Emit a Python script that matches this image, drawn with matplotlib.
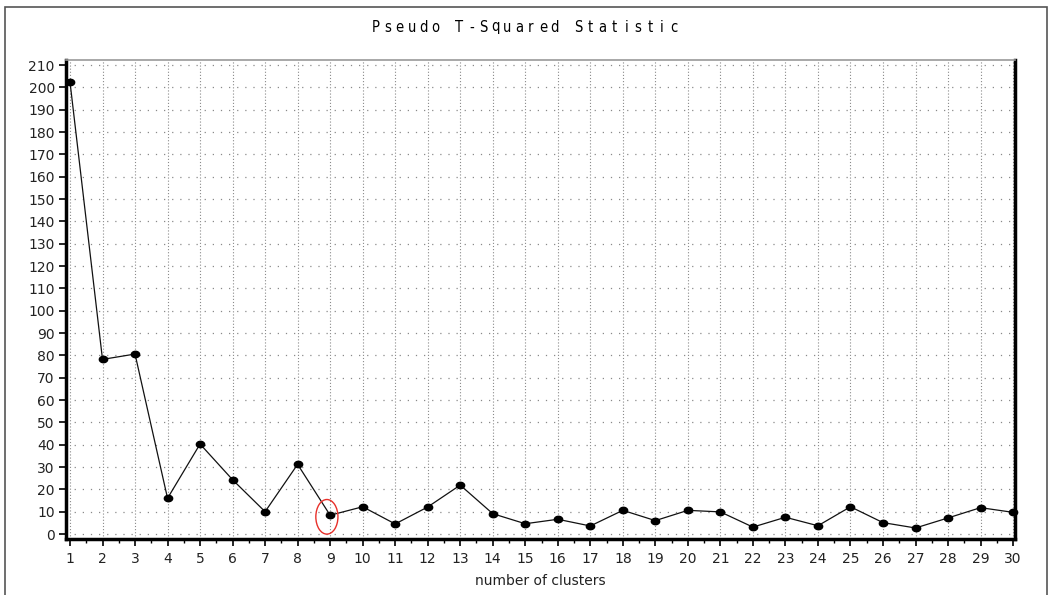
import matplotlib
matplotlib.use("Agg")
import matplotlib.pyplot as plt
import matplotlib.patches as mpatches
import matplotlib.ticker as ticker
from matplotlib.path import Path
import numpy as np

# pseudo t-squared values by number of clusters
clusters = list(range(1, 31))
pst2 = [202.5, 78.2, 80.6, 16.0, 40.3, 24.3, 10.0, 31.2, 8.4, 12.2,
        4.5, 12.1, 21.9, 9.1, 4.6, 6.6, 3.6, 10.6, 6.0, 10.6,
        9.9, 3.1, 7.5, 3.7, 12.2, 5.1, 2.7, 7.2, 11.8, 9.7]
picked = 9
yticks = list(range(0, 211, 10))
title = 'Pseudo T-Squared Statistic'

plt.rcParams['font.family'] = ['DejaVu Sans']

fig = plt.figure(figsize=(10.49, 5.95), dpi=100)
ax = fig.add_axes([0.0629, 0.0941, 0.9047, 0.8051])

# outer frame round the whole graph
frame = mpatches.Rectangle((5 / 1049, -0.05), 1042 / 1049, 1.05 - 7 / 595,
                           transform=fig.transFigure, fill=False,
                           edgecolor='#555555', linewidth=1.2)
fig.patches.append(frame)

# slightly flattened dot for the markers
t = np.linspace(0, 2 * np.pi, 33)
dot = Path(np.column_stack([1.3 * np.cos(t), np.sin(t)]), closed=True)

ax.plot(clusters, pst2, color='#111111', linewidth=0.9, marker=dot,
        markersize=6, markerfacecolor='black', markeredgecolor='black',
        zorder=3, clip_on=False)

# red ring round the chosen cluster count
k = clusters.index(picked)
ax.add_patch(mpatches.Ellipse((clusters[k] - 0.1, pst2[k] - 0.7), 0.68, 15.5,
                              fill=False, edgecolor='#e8302a', linewidth=1.0,
                              zorder=4))

ax.set_xlim(0.877, 30.06)
ax.set_ylim(-2.24, 212.3)
ax.set_xticks(clusters)
ax.xaxis.set_minor_locator(ticker.MultipleLocator(0.5))
ax.set_yticks(yticks)

ax.xaxis.grid(True, which='major', color='#8a8a8a', linestyle=(0, (1, 1.8)),
              linewidth=0.8)
ax.yaxis.grid(True, which='major', color='#8a8a8a', linestyle=(0, (1, 5.5)),
              linewidth=0.9)
ax.set_axisbelow(True)

for side in ['left', 'bottom', 'right']:
    ax.spines[side].set_linewidth(2.5)
    ax.spines[side].set_color('black')
ax.spines['top'].set_linewidth(1.2)
ax.spines['top'].set_color('#999999')

ax.tick_params(axis='both', which='major', direction='out', length=5,
               width=1.2, labelsize=10, labelcolor='#222222', pad=4)
ax.tick_params(axis='x', which='minor', direction='out', length=3, width=1.0)
ax.tick_params(axis='y', pad=3)

ax.set_xlabel('number of clusters', fontsize=10, color='#222222', labelpad=6)

# spaced-out title, one character per fixed-width cell
x0, step = 376 / 1049, 11.92 / 1049
for i, ch in enumerate(title):
    fig.text(x0 + i * step, 1 - 27 / 595, ch, ha='center', va='center',
             fontsize=10.5, color='black', fontstretch='condensed',
             family=['DejaVu Sans'])

fig.savefig('out.png', dpi=100)
